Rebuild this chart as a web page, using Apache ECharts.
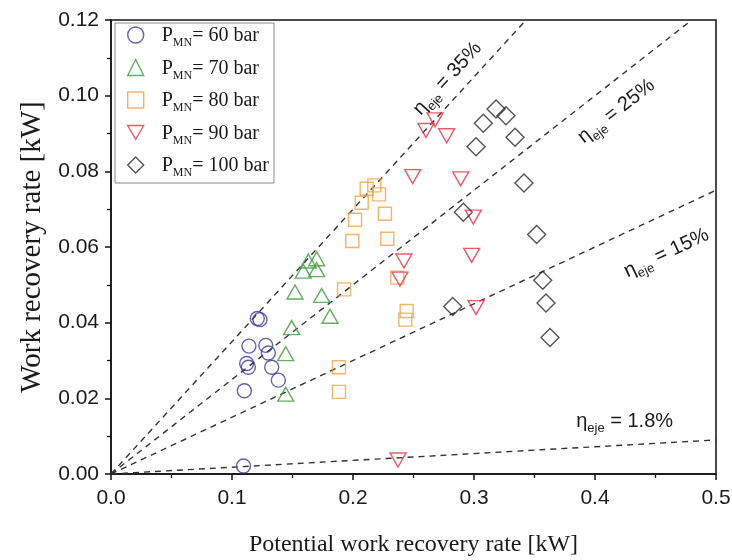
<!DOCTYPE html>
<html><head><meta charset="utf-8">
<script src="https://cdn.jsdelivr.net/npm/echarts@6/dist/echarts.min.js"></script>
<style>html,body{margin:0;padding:0;background:#fff}#c{width:732px;height:560px}</style>
</head><body><div id="c"></div>
<script>
// ---- data ----
const xTickStep = 0.1;
const yTickStep = 0.02;
const pressures = ['60', '70', '80', '90', '100'];

const p60 = [[0.1209,0.0411],[0.1231,0.0408],[0.1140,0.0338],[0.1279,0.0340],[0.1300,0.0320],
  [0.1121,0.0292],[0.1135,0.0282],[0.1328,0.0282],[0.1383,0.0248],[0.1102,0.0220],[0.1095,0.0021]];
const p70 = [[0.1631,0.0563],[0.1700,0.0569],[0.1589,0.0536],[0.1700,0.0540],[0.1521,0.0481],
  [0.1741,0.0472],[0.1810,0.0417],[0.1493,0.0387],[0.1444,0.0318],[0.1444,0.0211]];
const p80 = [[0.2113,0.0754],[0.2176,0.0763],[0.2215,0.0739],[0.2072,0.0717],[0.2264,0.0688],
  [0.2017,0.0672],[0.1994,0.0616],[0.2284,0.0622],[0.1926,0.0488],[0.2366,0.0519],
  [0.2444,0.0431],[0.2432,0.0408],[0.1884,0.0282],[0.1884,0.0217]];
const p90 = [[0.2678,0.0936],[0.2603,0.0908],[0.2774,0.0894],[0.2493,0.0786],[0.2890,0.0780],
  [0.2994,0.0679],[0.2421,0.0563],[0.2388,0.0515],[0.2981,0.0578],[0.3017,0.0440],[0.2372,0.0037]];
const p100 = [[0.3182,0.0965],[0.3264,0.0947],[0.3077,0.0927],[0.3339,0.0890],[0.3017,0.0865],
  [0.3413,0.0769],[0.2912,0.0692],[0.3518,0.0633],[0.2824,0.0443],[0.3568,0.0512],
  [0.3595,0.0452],[0.3628,0.0361]];

const effLabels = ['35%', '25%', '15%', '1.8%'];
const effLines = [
  [[0, 0], [0.343, 0.12]],
  [[0, 0], [0.48, 0.12]],
  [[0, 0], [0.5, 0.075]],
  [[0, 0], [0.5, 0.009]]
];
const effLabelPos = [[0.278, 0.1045], [0.4176, 0.0959], [0.459, 0.0584], [0.4245, 0.0139]];
const effLabelAlong = [true, true, true, false];

// ---- styles ----
const colors = ['#3b3b9e', '#3c9a3c', '#f4a045', '#e8333f', '#2b2b2b'];
const symbols = ['circle', 'triangle', 'rect', 'path://M0,0L10,0L5,8.66Z', 'diamond'];
const sizes = [14, [16, 14], 13, [16, 14], 18];
const legendSymbols = ['circle', 'triangle', 'rect', 'path://M0,0L10,0L5,8.66Z', 'diamond'];
const groups = [p60, p70, p80, p90, p100];

const chart = echarts.init(document.getElementById('c'), null, {renderer: 'canvas'});

const scatterSeries = groups.map((g, i) => ({
  type: 'scatter',
  name: 'P' + pressures[i],
  data: g,
  symbol: symbols[i],
  symbolSize: sizes[i],
  itemStyle: {color: 'rgba(255,255,255,0)', borderColor: colors[i], borderWidth: 1.4},
  emphasis: {disabled: true},
  z: 3
}));

const lineSeries = effLines.map((d, i) => ({
  type: 'line',
  name: 'eff' + effLabels[i],
  data: d,
  symbol: 'none',
  lineStyle: {color: '#333', width: 1.4, type: [6, 5]},
  silent: true,
  z: 2
}));

const axisFont = {fontFamily: 'Liberation Sans', fontSize: 21, color: '#1a1a1a'};

chart.setOption({
  animation: false,
  backgroundColor: '#fff',
  grid: {left: 111, right: 16, top: 20, bottom: 86, show: true, borderColor: '#111', borderWidth: 1.5,
         containLabel: false, outerBoundsMode: 'none'},
  legend: {
    data: pressures.map((p, i) => ({name: 'P' + p, icon: legendSymbols[i]})),
    orient: 'vertical',
    left: 115, top: 23,
    itemWidth: 16, itemHeight: 16, itemGap: 9.5,
    padding: [3, 5, 4, 12],
    borderColor: '#888', borderWidth: 1, backgroundColor: '#fff',
    itemStyle: {color: 'rgba(255,255,255,0)', borderWidth: 1.4},
    formatter: n => '{q|P}{s|MN}{p|= ' + n.slice(1) + ' bar}',
    textStyle: {
      fontFamily: 'Liberation Serif', fontSize: 20, color: '#1a1a1a',
      rich: {
        q: {fontFamily: 'Liberation Serif', fontSize: 20, color: '#1a1a1a', lineHeight: 18, verticalAlign: 'top', padding: [0, 0, 0, 13]},
        p: {fontFamily: 'Liberation Serif', fontSize: 20, color: '#1a1a1a', lineHeight: 18, verticalAlign: 'top'},
        s: {fontFamily: 'Liberation Serif', fontSize: 12, color: '#1a1a1a', lineHeight: 12, verticalAlign: 'top', padding: [11, 0, 0, 0]}
      }
    }
  },
  xAxis: {
    type: 'value', min: 0, max: 0.5, interval: xTickStep,
    name: 'Potential work recovery rate [kW]', nameLocation: 'middle', nameGap: 59,
    nameTextStyle: {fontFamily: 'Liberation Serif', fontSize: 24, color: '#1a1a1a'},
    axisLine: {show: true, onZero: false, lineStyle: {color: '#111', width: 1.5}},
    axisTick: {show: true, inside: false, length: 6, lineStyle: {color: '#111', width: 1.5}},
    minorTick: {show: true, splitNumber: 2, length: 4, lineStyle: {color: '#111', width: 1.3}},
    splitLine: {show: false},
    axisLabel: Object.assign({margin: 14, formatter: v => v.toFixed(1)}, axisFont)
  },
  yAxis: {
    type: 'value', min: 0, max: 0.12, interval: yTickStep,
    name: 'Work recovery rate [kW]', nameLocation: 'middle', nameGap: 63,
    nameTextStyle: {fontFamily: 'Liberation Serif', fontSize: 29, color: '#1a1a1a'},
    axisLine: {show: true, onZero: false, lineStyle: {color: '#111', width: 1.5}},
    axisTick: {show: true, inside: false, length: 6, lineStyle: {color: '#111', width: 1.5}},
    minorTick: {show: true, splitNumber: 2, length: 4, lineStyle: {color: '#111', width: 1.3}},
    splitLine: {show: false},
    axisLabel: Object.assign({margin: 12, formatter: v => v.toFixed(2)}, axisFont)
  },
  series: lineSeries.concat(scatterSeries)
});

// efficiency labels placed along their lines
const origin = chart.convertToPixel({gridIndex: 0}, [0, 0]);
const gfx = effLabels.map((lab, i) => {
  const end = chart.convertToPixel({gridIndex: 0}, effLines[i][1]);
  const ang = effLabelAlong[i] ? Math.atan2(-(end[1] - origin[1]), end[0] - origin[0]) : 0;
  const pos = chart.convertToPixel({gridIndex: 0}, effLabelPos[i]);
  return {
    type: 'text', x: pos[0], y: pos[1], rotation: ang, z: 10,
    style: {
      text: '{e|η}{s|eje}{e| = ' + lab + '}',
      align: 'center', verticalAlign: 'middle', textAlign: 'center', textVerticalAlign: 'middle',
      rich: {
        e: {fontFamily: 'Liberation Sans', fontSize: 20, fill: '#1a1a1a', color: '#1a1a1a', lineHeight: 20, verticalAlign: 'top'},
        s: {fontFamily: 'Liberation Sans', fontSize: 13, fill: '#1a1a1a', color: '#1a1a1a', lineHeight: 13, verticalAlign: 'top', padding: [11, 0, 0, 0]}
      }
    }
  };
});
chart.setOption({graphic: gfx});
</script>
</body></html>
